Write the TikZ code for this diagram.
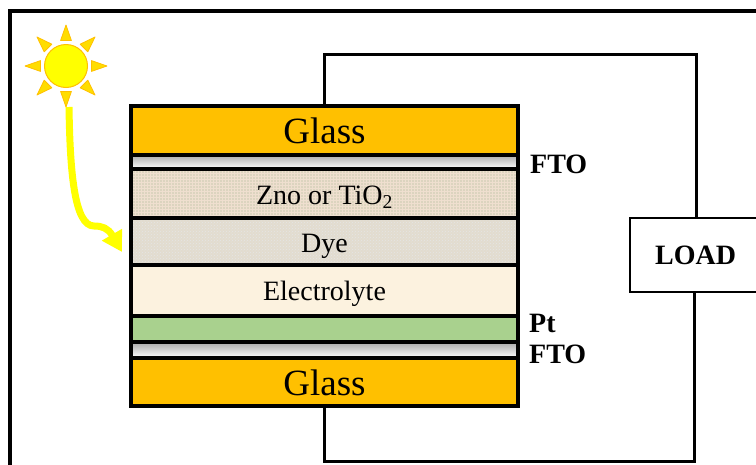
\documentclass[tikz,border=0pt]{standalone}
\usepackage{fontspec}
\setmainfont{Liberation Serif}
\usepackage{xcolor}
\usetikzlibrary{arrows.meta,patterns}
\definecolor{glassGold}{HTML}{FFC000}
\definecolor{ptGreen}{HTML}{A9D18E}
\definecolor{znoSand}{HTML}{DCD4BF}
\definecolor{dyeSand}{HTML}{E2DCCF}
\definecolor{electroCream}{HTML}{FCF2DF}
\definecolor{sunYellow}{HTML}{FFFF00}
\definecolor{rayYellow}{HTML}{FFDD00}
\definecolor{ftoGray}{HTML}{A8A8A8}
\begin{document}
\begin{tikzpicture}[x=1pt,y=-1pt]
  \tikzset{
    layer/.style={draw=black,line width=4pt,minimum width=387pt,inner sep=0pt,outer sep=0pt,text depth=0pt,font=\fontsize{28}{30}\selectfont},
    grain/.style={path picture={\fill[pattern=#1] (path picture bounding box.south west) rectangle (path picture bounding box.north east);}},
    tag/.style={font=\fontsize{28}{30}\selectfont\bfseries,anchor=west,inner sep=0pt},
    wire/.style={draw=black,line width=3pt},
    sunray/.style={fill=rayYellow,draw=glassGold,line width=0.8pt,line join=round}
  }
  \useasboundingbox (0,0) rectangle (756,464);
  \clip (0,0) rectangle (756,464);

  \draw[black,line width=4pt] (9.5,470) -- (9.5,11.3) -- (762,11.3);

  \node[layer,fill=glassGold,minimum height=48.5pt,text height=25.5pt,font=\fontsize{37}{40}\selectfont] (glassTop) at (324.5,130.25) {Glass};
  \node[layer,top color=ftoGray,bottom color=white,minimum height=14.5pt] (ftoTop) at (324.5,161.75) {};
  \node[layer,fill=znoSand,grain={grid},pattern color=brown!25,minimum height=49pt,text height=21pt] (zno) at (324.5,193.5) {Zno or TiO\textsubscript{2}};
  \node[layer,fill=dyeSand,grain={crosshatch dots},pattern color=gray!20,minimum height=47pt,text height=22.4pt] (dye) at (324.5,241.5) {Dye};
  \node[layer,fill=electroCream,minimum height=50.5pt,text height=21pt] (electrolyte) at (324.5,290.25) {Electrolyte};
  \node[layer,fill=ptGreen,minimum height=26.5pt] (platinum) at (324.5,328.75) {};
  \node[layer,top color=ftoGray,bottom color=white,minimum height=16pt] (ftoBottom) at (324.5,350) {};
  \node[layer,fill=glassGold,minimum height=48pt,text height=26pt,font=\fontsize{37}{40}\selectfont] (glassBottom) at (324.5,382) {Glass};

  \node[tag] (ftoTopTag) at (530,164) {FTO};
  \node[tag] (ptTag) at (529,323) {Pt};
  \node[tag] (ftoBottomTag) at (529,354) {FTO};

  \node[draw=black,line width=1.3pt,fill=white,minimum width=130pt,minimum height=74pt,inner sep=0pt] (load) at (695,255) {};
  \node[tag] (loadTag) at (655,255) {LOAD};

  \coordinate (wireTop) at (696.5,54);
  \coordinate (wireBottom) at (694,461);
  \draw[wire] (glassTop.north) |- (wireTop) -- (wireTop |- load.north);
  \draw[wire] (glassBottom.south) |- (wireBottom) -- (wireBottom |- load.south);

  \node[circle,fill=sunYellow,draw=glassGold,line width=1pt,minimum size=43pt,inner sep=0pt] (sun) at (66,66) {};
  \begin{scope}[shift={(sun.center)}]
    \foreach \a in {0,45,...,315}
      {\filldraw[sunray] (\a-12:26) -- (\a:41) -- (\a+12:26) -- cycle;}
  \end{scope}

  \coordinate (beamStart) at (69,107);
  \coordinate (beamEnd) at (122,252);
  \draw[sunYellow,line width=7pt,-{Triangle[length=20pt,width=22pt]}] (beamStart)
    .. controls (70,170) and (74,226) .. (94,226)
    .. controls (102,226) and (108,228) .. (beamEnd);
\end{tikzpicture}
\end{document}
